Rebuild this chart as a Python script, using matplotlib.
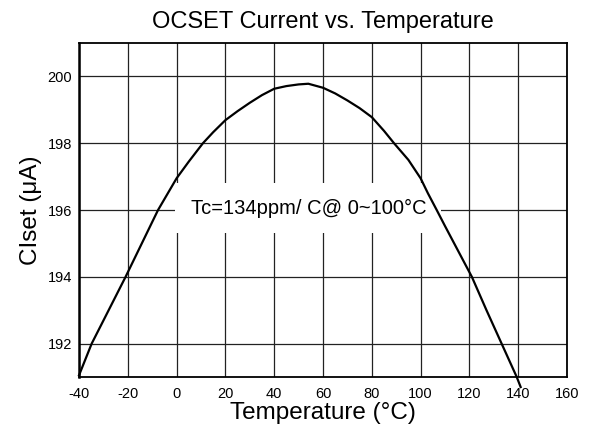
import matplotlib
matplotlib.use("Agg")
import matplotlib.pyplot as plt

plt.rcParams["font.family"] = ["Liberation Sans", "DejaVu Sans"]
plt.rcParams["axes.unicode_minus"] = False

# Werte
temperature = [-40, -34.8, -30, -20.9, -10, -7.6, -4, 0, 5, 10.8, 15, 20, 25, 30, 35,
               40, 45, 50, 54, 60, 65, 70, 75, 80, 85, 89.1, 95, 100, 103, 106.6,
               110, 121, 127, 133.2, 139.4, 141]
iset = [191.05, 192.0, 192.69, 194.0, 195.64, 196.0, 196.45, 196.95, 197.45, 198.0,
        198.33, 198.69, 198.96, 199.21, 199.44, 199.63, 199.71, 199.76, 199.78, 199.66,
        199.49, 199.28, 199.05, 198.78, 198.37, 198.0, 197.5, 196.95, 196.5, 196.0,
        195.52, 194.0, 193.0, 192.0, 191.0, 190.7]

x_ticks = [-40, -20, 0, 20, 40, 60, 80, 100, 120, 140, 160]
y_ticks = [192, 194, 196, 198, 200]

note_text = "Tc=134ppm/ C@ 0~100°C"
note_pos = (54, 196.05)

fig = plt.figure(figsize=(5.92, 4.30), dpi=100)
ax = fig.add_axes([79 / 592, 1 - 377 / 430, (567 - 79) / 592, (377 - 43) / 430])

ax.plot(temperature, iset, color="black", lw=1.6, clip_on=False, zorder=3)

ax.set_xlim(-40, 160)
ax.set_ylim(191, 201)
ax.set_xticks(x_ticks)
ax.set_yticks(y_ticks)
ax.tick_params(length=0, labelsize=10.5)
ax.tick_params(axis="x", pad=7)
ax.tick_params(axis="y", pad=5)
ax.grid(True, color="#222222", lw=0.9)
ax.set_axisbelow(True)
for s in ax.spines.values():
    s.set_linewidth(1.3)
    s.set_color("black")
ax.spines["left"].set_linewidth(1.8)

ax.text(note_pos[0], note_pos[1], note_text, fontsize=14.5, ha="center", va="center",
        bbox=dict(facecolor="white", edgecolor="none", pad=11), zorder=2)

ax.set_title("OCSET Current vs. Temperature", fontsize=17, pad=11)
ax.set_xlabel("Temperature (°C)", fontsize=17.5, labelpad=1)
ax.set_ylabel("CIset (μA)", fontsize=17.5, labelpad=4)

fig.savefig("out.png", dpi=100)
